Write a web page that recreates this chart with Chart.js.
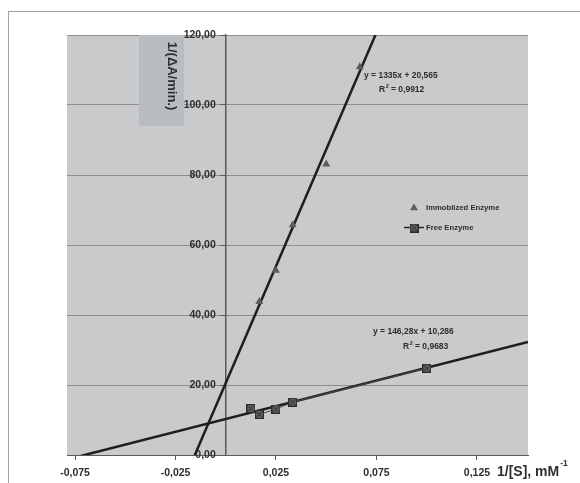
<!DOCTYPE html>
<html>
<head>
<meta charset="utf-8">
<script src="https://cdn.jsdelivr.net/npm/chart.js@4.4.0/dist/chart.umd.min.js"></script>
<style>
  html, body { margin: 0; padding: 0; background: #ffffff; }
  #wrap { width: 580px; height: 483px; position: relative; }
</style>
</head>
<body>
<div id="wrap"><canvas id="c" width="580" height="483"></canvas></div>
<script>
// Lineweaver-Burk data: 1/[S] (mM^-1) against 1/(dA/min)
const immobX = [0.0167, 0.025, 0.0333, 0.05, 0.0667];
const immobY = [43.8, 52.7, 65.7, 83.1, 110.9];
const freeX = [0.0125, 0.0167, 0.025, 0.0333, 0.1];
const freeY = [13.3, 11.6, 13.1, 15.1, 24.8];

// linear fits: [immobilized, free]
const fitSlopes = [1335, 146.28];
const fitIntercepts = [20.565, 10.286];
const fitR2 = [0.9912, 0.9683];

const seriesNames = ['Immoblized Enzyme', 'Free Enzyme'];
const xTicks = [-0.075, -0.025, 0.025, 0.075, 0.125];
const xRange = [-0.079, 0.1504];
const yRange = [0, 120];
const yStep = 20;

const FONT = '"Liberation Sans", Arial, sans-serif';
const TEXT = '#2e2e2e';

const fmt = (v, d) => v.toFixed(d).replace('.', ',');
const fmtNum = v => String(v).replace('.', ',');

function boxMarker() {
  const s = 9;
  const c = document.createElement('canvas');
  c.width = s; c.height = s;
  const g = c.getContext('2d');
  g.fillStyle = '#5f5f5f';
  g.fillRect(0, 0, s, s);
  g.strokeStyle = '#2a2a2a';
  g.lineWidth = 1;
  g.strokeRect(0.5, 0.5, s - 1, s - 1);
  g.beginPath();
  g.moveTo(1.5, 1.5); g.lineTo(s - 1.5, s - 1.5);
  g.moveTo(s - 1.5, 1.5); g.lineTo(1.5, s - 1.5);
  g.stroke();
  return c;
}

function fitLine(i) {
  return xRange.map(x => ({ x, y: fitSlopes[i] * x + fitIntercepts[i] }));
}

function drawTriangle(ctx, x, y, r, color) {
  ctx.beginPath();
  ctx.moveTo(x, y - r);
  ctx.lineTo(x + r * 0.866, y + r * 0.5);
  ctx.lineTo(x - r * 0.866, y + r * 0.5);
  ctx.closePath();
  ctx.fillStyle = color;
  ctx.fill();
}

const decor = {
  id: 'decor',
  beforeDraw(chart) {
    const { ctx, chartArea: a } = chart;
    ctx.save();
    ctx.fillStyle = '#ffffff';
    ctx.fillRect(0, 0, chart.width, chart.height);
    ctx.strokeStyle = '#a3a3a3';
    ctx.lineWidth = 1;
    ctx.strokeRect(8.5, 11.5, 700, 700);
    ctx.fillStyle = '#c9cacc';
    ctx.fillRect(a.left, a.top, a.width, a.height);
    ctx.restore();
    // keep the value labels clear of the tick marks on the crossing axis
    const ys = chart.scales.y;
    if (ys && typeof ys.getLabelItems === 'function') {
      ys.getLabelItems(a).forEach(it => {
        if (!it._moved && it.options && it.options.translation) {
          it.options.translation[0] -= 10;
          it._moved = true;
        }
      });
    }
  },
  beforeDatasetsDraw(chart) {
    const { ctx, chartArea: a } = chart;
    ctx.save();
    // axis title panel
    ctx.fillStyle = '#babdc0';
    ctx.fillRect(139, a.top, 45, 91);
    ctx.translate(172, 76);
    ctx.rotate(Math.PI / 2);
    ctx.fillStyle = TEXT;
    ctx.font = 'bold 13px ' + FONT;
    ctx.textAlign = 'center';
    ctx.textBaseline = 'middle';
    ctx.fillText('1/(\u0394A/min.)', 0, 0);
    ctx.restore();
  },
  afterDraw(chart) {
    const { ctx } = chart;
    const marker = chart.data.datasets[1].pointStyle;
    ctx.save();
    ctx.fillStyle = TEXT;
    ctx.textBaseline = 'middle';
    ctx.textAlign = 'left';

    // regression equations
    const eqFont = 'bold 8.5px ' + FONT;
    ctx.font = eqFont;
    const eqPos = [[364, 76, 379, 90], [373, 332, 403, 347]];
    for (let i = 0; i < 2; i++) {
      const [ex, ey, rx, ry] = eqPos[i];
      ctx.fillText('y = ' + fmtNum(fitSlopes[i]) + 'x + ' + fmtNum(fitIntercepts[i]), ex, ey);
      ctx.fillText('R', rx, ry);
      const rw = ctx.measureText('R').width;
      ctx.font = 'bold 5.5px ' + FONT;
      ctx.fillText('2', rx + rw + 0.5, ry - 3.5);
      ctx.font = eqFont;
      ctx.fillText(' = ' + fmtNum(fitR2[i]), rx + rw + 3.5, ry);
    }

    // legend
    ctx.font = 'bold 7.7px ' + FONT;
    drawTriangle(ctx, 414, 208, 4.6, '#5d5d5d');
    ctx.fillStyle = TEXT;
    ctx.fillText(seriesNames[0], 426, 208);
    ctx.strokeStyle = '#262626';
    ctx.lineWidth = 1.5;
    ctx.beginPath();
    ctx.moveTo(404, 227.5); ctx.lineTo(424, 227.5);
    ctx.stroke();
    ctx.drawImage(marker, 414 - marker.width / 2, 228 - marker.height / 2);
    ctx.fillText(seriesNames[1], 426, 228);

    // x axis title
    ctx.font = 'bold 14px ' + FONT;
    ctx.fillText('1/[S], mM', 497, 472);
    const tw = ctx.measureText('1/[S], mM').width;
    ctx.font = 'bold 8.5px ' + FONT;
    ctx.fillText('-1', 497 + tw + 1, 464);
    ctx.restore();
  }
};

function build() {
  const square = boxMarker();
  new Chart(document.getElementById('c'), {
    type: 'scatter',
    data: {
      datasets: [
        {
          label: seriesNames[0],
          data: immobX.map((x, i) => ({ x, y: immobY[i] })),
          pointStyle: 'triangle',
          pointRadius: 4.6,
          backgroundColor: '#5d5d5d',
          borderColor: '#5d5d5d',
          borderWidth: 0,
          showLine: false,
          clip: 0
        },
        {
          label: seriesNames[1],
          data: freeX.map((x, i) => ({ x, y: freeY[i] })),
          pointStyle: square,
          pointRadius: 4.5,
          showLine: true,
          borderColor: '#4a4a4a',
          borderWidth: 1,
          backgroundColor: '#5f5f5f',
          clip: 0
        },
        {
          label: 'fit immobilized',
          data: fitLine(0),
          showLine: true,
          pointRadius: 0,
          borderColor: '#211d1e',
          borderWidth: 2.5,
          clip: 0
        },
        {
          label: 'fit free',
          data: fitLine(1),
          showLine: true,
          pointRadius: 0,
          borderColor: '#211d1e',
          borderWidth: 2.5,
          clip: 0
        }
      ]
    },
    options: {
      responsive: false,
      animation: false,
      devicePixelRatio: 1,
      layout: { padding: { left: 67, right: 52, top: 35, bottom: 0 } },
      plugins: { legend: { display: false }, tooltip: { enabled: false } },
      scales: {
        x: {
          type: 'linear',
          position: 'bottom',
          min: xRange[0],
          max: xRange[1],
          afterBuildTicks: s => { s.ticks = xTicks.map(v => ({ value: v })); },
          afterFit: s => { s.height = 28; },
          ticks: {
            autoSkip: false,
            maxRotation: 0,
            padding: 7,
            callback: v => fmt(v, 3),
            color: TEXT,
            font: { family: FONT, weight: 'bold', size: 10.5 }
          },
          grid: { drawOnChartArea: false, drawTicks: true, tickLength: 5, tickColor: '#5a5a5a' },
          border: { color: '#5a5a5a', width: 1 }
        },
        y: {
          type: 'linear',
          position: { x: 0 },
          min: yRange[0],
          max: yRange[1],
          ticks: {
            stepSize: yStep,
            callback: v => fmt(v, 2),
            color: TEXT,
            font: { family: FONT, weight: 'bold', size: 10.5 }
          },
          grid: { color: '#8e8e8e', lineWidth: 1, tickLength: 5, tickColor: '#5a5a5a' },
          border: { color: '#5a5a5a', width: 1.5 }
        }
      }
    },
    plugins: [decor]
  });
}

build();
</script>
</body>
</html>
